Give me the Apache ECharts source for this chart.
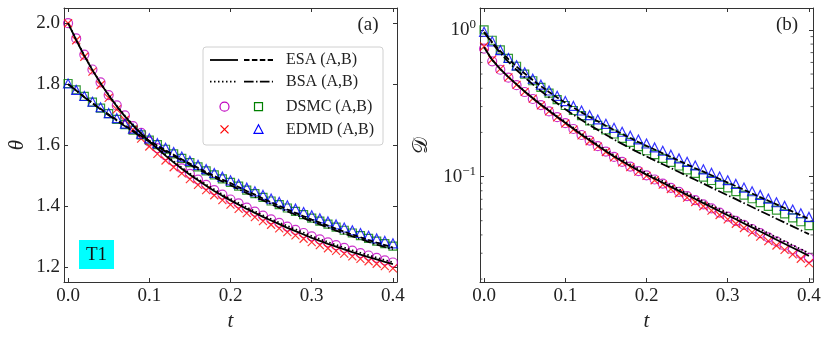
<!DOCTYPE html>
<html><head><meta charset="utf-8">
<script src="https://cdn.jsdelivr.net/npm/echarts@6/dist/echarts.min.js"></script>
<style>html,body{margin:0;padding:0;background:#fff}#c{width:831px;height:338px}</style>
</head><body><div id="c"></div>
<script>
// ---- data ----
const tGrid = [0.00,0.01,0.02,0.03,0.04,0.05,0.06,0.07,0.08,0.09,0.10,0.11,0.12,0.13,0.14,0.15,0.16,0.17,0.18,0.19,0.20,
  0.21,0.22,0.23,0.24,0.25,0.26,0.27,0.28,0.29,0.30,0.31,0.32,0.33,0.34,0.35,0.36,0.37,0.38,0.39,0.40];

// panel (a): temperature theta
const thetaESA_A = [2.000,1.945,1.893,1.846,1.803,1.763,1.727,1.694,1.664,1.637,1.612,1.588,1.565,1.543,1.522,1.502,1.484,1.466,1.449,1.433,1.418,1.404,1.390,1.377,1.364,1.352,1.340,1.328,1.317,1.306,1.295,1.285,1.275,1.266,1.257,1.248,1.240,1.232,1.224,1.216,1.209];
const thetaESA_B = [1.800,1.779,1.758,1.738,1.719,1.700,1.682,1.664,1.647,1.630,1.614,1.598,1.583,1.568,1.553,1.539,1.525,1.511,1.498,1.486,1.475,1.462,1.449,1.437,1.424,1.412,1.400,1.388,1.377,1.366,1.355,1.345,1.335,1.325,1.315,1.306,1.297,1.288,1.279,1.271,1.263];
const thetaBSA_A = [2.000,1.946,1.894,1.847,1.804,1.765,1.729,1.696,1.666,1.639,1.614,1.591,1.568,1.546,1.526,1.506,1.488,1.470,1.454,1.438,1.423,1.409,1.395,1.382,1.369,1.357,1.345,1.334,1.323,1.312,1.301,1.291,1.281,1.272,1.263,1.254,1.246,1.238,1.230,1.222,1.215];
const thetaBSA_B = [1.800,1.779,1.757,1.737,1.717,1.698,1.680,1.662,1.644,1.627,1.611,1.595,1.579,1.564,1.549,1.535,1.520,1.507,1.493,1.480,1.468,1.455,1.442,1.430,1.418,1.406,1.394,1.382,1.371,1.360,1.349,1.339,1.329,1.319,1.309,1.300,1.291,1.282,1.273,1.265,1.257];
const thetaDSMC_A = [2.000,1.950,1.897,1.848,1.806,1.764,1.730,1.697,1.662,1.640,1.611,1.590,1.566,1.546,1.523,1.505,1.486,1.469,1.452,1.437,1.421,1.408,1.394,1.381,1.368,1.356,1.344,1.332,1.321,1.311,1.300,1.290,1.280,1.271,1.262,1.253,1.245,1.237,1.229,1.221,1.214];
const thetaDSMC_B = [1.802,1.781,1.760,1.741,1.721,1.703,1.684,1.667,1.649,1.633,1.616,1.601,1.586,1.571,1.556,1.542,1.528,1.515,1.502,1.489,1.477,1.465,1.452,1.440,1.428,1.416,1.404,1.393,1.382,1.371,1.360,1.350,1.340,1.330,1.320,1.311,1.302,1.293,1.284,1.276,1.268];
const thetaEDMD_A = [2.000,1.944,1.890,1.841,1.797,1.755,1.717,1.682,1.650,1.621,1.595,1.571,1.549,1.527,1.507,1.488,1.469,1.452,1.435,1.419,1.404,1.390,1.376,1.363,1.350,1.338,1.326,1.314,1.303,1.292,1.281,1.271,1.261,1.252,1.243,1.234,1.226,1.218,1.210,1.202,1.195];
const thetaEDMD_B = [1.802,1.781,1.761,1.742,1.724,1.705,1.688,1.670,1.654,1.637,1.622,1.606,1.591,1.577,1.562,1.548,1.535,1.521,1.508,1.496,1.484,1.472,1.460,1.448,1.436,1.424,1.413,1.402,1.391,1.380,1.369,1.359,1.349,1.339,1.329,1.320,1.311,1.302,1.293,1.285,1.277];

// panel (b): D (log scale)
const dESA_A = [0.762,0.624,0.540,0.476,0.425,0.380,0.342,0.309,0.281,0.255,0.233,0.212,0.193,0.177,0.162,0.149,0.137,0.127,0.118,0.110,0.103,0.0967,0.0907,0.0851,0.0798,0.0749,0.0703,0.0659,0.0619,0.0580,0.0545,0.0511,0.0479,0.0450,0.0422,0.0396,0.0371,0.0348,0.0327,0.0307,0.0288];
const dBSA_A = [0.762,0.625,0.541,0.478,0.427,0.382,0.344,0.312,0.284,0.258,0.236,0.215,0.196,0.180,0.165,0.152,0.140,0.130,0.121,0.113,0.1055,0.0991,0.0930,0.0873,0.0819,0.0769,0.0722,0.0678,0.0637,0.0598,0.0562,0.0527,0.0495,0.0465,0.0437,0.0410,0.0385,0.0362,0.0340,0.0320,0.0300];
const dESA_B = [0.965,0.826,0.717,0.632,0.562,0.504,0.455,0.413,0.377,0.346,0.319,0.295,0.274,0.255,0.238,0.222,0.208,0.195,0.183,0.172,0.162,0.153,0.144,0.136,0.128,0.121,0.114,0.108,0.102,0.0963,0.0910,0.0860,0.0812,0.0767,0.0724,0.0684,0.0646,0.0610,0.0576,0.0544,0.0514];
const dBSA_B = [0.965,0.812,0.695,0.605,0.533,0.474,0.425,0.383,0.347,0.316,0.288,0.264,0.243,0.224,0.208,0.193,0.179,0.167,0.156,0.146,0.137,0.129,0.1213,0.1142,0.1074,0.1010,0.0951,0.0895,0.0841,0.0791,0.0745,0.0701,0.0659,0.0620,0.0583,0.0549,0.0516,0.0486,0.0457,0.0430,0.0405];
const dDSMC_A = [0.745,0.610,0.535,0.472,0.420,0.377,0.338,0.307,0.278,0.254,0.231,0.211,0.192,0.176,0.161,0.148,0.136,0.126,0.117,0.109,0.102,0.0955,0.0895,0.0838,0.0786,0.0736,0.0690,0.0646,0.0606,0.0568,0.0533,0.0499,0.0468,0.0439,0.0411,0.0385,0.0361,0.0338,0.0317,0.0297,0.0279];
const dDSMC_B = [1.000,0.850,0.730,0.640,0.565,0.500,0.450,0.405,0.370,0.335,0.305,0.282,0.260,0.240,0.223,0.208,0.195,0.182,0.171,0.160,0.150,0.141,0.133,0.125,0.118,0.111,0.105,0.0990,0.0940,0.0885,0.0838,0.0790,0.0748,0.0706,0.0664,0.0626,0.0590,0.0556,0.0523,0.0492,0.0463];
const dEDMD_A = [0.770,0.628,0.542,0.474,0.422,0.378,0.340,0.306,0.278,0.253,0.230,0.209,0.191,0.174,0.160,0.147,0.135,0.125,0.116,0.108,0.101,0.0944,0.0881,0.0823,0.0769,0.0718,0.0671,0.0627,0.0586,0.0547,0.0511,0.0477,0.0446,0.0416,0.0389,0.0363,0.0339,0.0316,0.0295,0.0275,0.0257];
const dEDMD_B = [0.970,0.836,0.728,0.643,0.573,0.514,0.465,0.423,0.386,0.355,0.327,0.303,0.282,0.262,0.245,0.229,0.215,0.202,0.190,0.179,0.168,0.158,0.150,0.141,0.133,0.126,0.119,0.112,0.106,0.100,0.0944,0.0891,0.0841,0.0794,0.0750,0.0708,0.0668,0.0631,0.0596,0.0562,0.0531];

const logMinorTicks = [0.02,0.03,0.04,0.05,0.06,0.07,0.08,0.09,0.2,0.3,0.4,0.5,0.6,0.7,0.8,0.9];
const legendLabels = ['ESA (A,B)','BSA (A,B)','DSMC (A,B)','EDMD (A,B)'];

// ---- styling ----
const FONT = '"Liberation Serif", "DejaVu Serif", serif';
const AX = '#333';
const C_A1 = '#bf00bf', C_B1 = '#008000', C_A2 = '#ff0000', C_B2 = '#0000ff';
const CROSS = 'path://M0,0L10,10M0,10L10,0';
const X_MIN = -0.005, X_MAX = 0.405;
const DASHED = [5.5,2.4], DOTTED = [1.5,2.5], DASHDOT = [9.6,2.4,1.5,2.4];

const pairs = ys => tGrid.map((t,i)=>[t, ys[i]]);
function scat(xi, yi, ys, symbol, color, size){
  return {type:'scatter', xAxisIndex:xi, yAxisIndex:yi, data:pairs(ys), symbol, symbolSize:size,
    itemStyle:{color:'transparent', borderColor:color, borderWidth:1.2}, z:2, silent:true};
}
function line(xi, yi, ys, type){
  return {type:'line', xAxisIndex:xi, yAxisIndex:yi, data:pairs(ys), showSymbol:false, symbol:'none',
    lineStyle:{color:'#000', width:1.8, type}, z:3, silent:true};
}
const fmt1 = (v, step) => { const r = Math.round(v/step)*step; return Math.abs(v-r) < 1e-9 ? r.toFixed(1) : ''; };
const fmtLog = v => { const l = Math.log10(v), e = Math.round(l); if (Math.abs(l-e) > 1e-6) return '';
  return '{b|10}{s|' + (e < 0 ? '\u2212' + (-e) : e) + '}'; };

function xAx(grid, top, withName){
  return {type:'value', gridIndex:grid, position: top?'top':'bottom', min:X_MIN, max:X_MAX, splitNumber:5,
    axisLine:{show:true, onZero:false, lineStyle:{color:AX, width:1}},
    axisTick:{show:true, inside:true, length:4, lineStyle:{color:AX, width:1}},
    axisLabel:{show:!top, formatter:v=>fmt1(v,0.1), fontFamily:FONT, fontSize:19, color:'#222', margin:5},
    splitLine:{show:false},
    name: withName ? 't' : '', nameLocation:'middle', nameGap:26,
    nameTextStyle:{fontFamily:FONT, fontStyle:'italic', fontSize:21, color:'#222'}};
}
function yLin(right){
  return {type:'value', gridIndex:0, position: right?'right':'left', min:1.15, max:2.05, splitNumber:5,
    axisLine:{show:true, onZero:false, lineStyle:{color:AX, width:1}},
    axisTick:{show:true, inside:true, length:4, lineStyle:{color:AX, width:1}},
    axisLabel:{show:!right, formatter:v=>fmt1(v,0.2), fontFamily:FONT, fontSize:19, color:'#222', margin:4},
    splitLine:{show:false},
    name: right ? '' : '\u03b8', nameLocation:'middle', nameGap:36, nameRotate:90,
    nameTextStyle:{fontFamily:FONT, fontStyle:'italic', fontSize:21, color:'#222'}};
}
function yLog(right){
  return {type:'log', logBase:10, gridIndex:1, position: right?'right':'left', min:0.0191, max:1.41,
    axisLine:{show:true, onZero:false, lineStyle:{color:AX, width:1}},
    axisTick:{show:true, inside:true, length:4, lineStyle:{color:AX, width:1}},
    axisLabel:{show:!right, formatter:fmtLog, color:'#222', margin:4,
      rich:{b:{fontFamily:FONT, fontSize:19, color:'#222'}, s:{fontFamily:FONT, fontSize:13, color:'#222', padding:[0,0,10,0]}}},
    splitLine:{show:false},
    name: right ? '' : '\ud835\udc9f', nameLocation:'middle', nameGap:48, nameRotate:90,
    nameTextStyle:{fontFamily:FONT, fontSize:21, color:'#222'}};
}
function minorTicks(xVal, offset){
  return {type:'scatter', xAxisIndex:2, yAxisIndex:2, data:logMinorTicks.map(v=>[xVal, v]),
    symbol:'rect', symbolSize:[2.5,1], symbolOffset:[offset,0], itemStyle:{color:AX}, clip:false, z:5, silent:true};
}

const series = [
  scat(0,0,thetaDSMC_A,'circle',C_A1,9), scat(0,0,thetaDSMC_B,'rect',C_B1,8),
  scat(0,0,thetaEDMD_A,CROSS,C_A2,8), scat(0,0,thetaEDMD_B,'triangle',C_B2,9),
  line(0,0,thetaESA_A,'solid'), line(0,0,thetaESA_B,DASHED),
  line(0,0,thetaBSA_A,DOTTED), line(0,0,thetaBSA_B,DASHDOT),
  scat(2,2,dDSMC_A,'circle',C_A1,9), scat(2,2,dDSMC_B,'rect',C_B1,8),
  scat(2,2,dEDMD_A,CROSS,C_A2,8), scat(2,2,dEDMD_B,'triangle',C_B2,9),
  line(2,2,dESA_A,'solid'), line(2,2,dESA_B,DASHED),
  line(2,2,dBSA_A,DOTTED), line(2,2,dBSA_B,DASHDOT),
  minorTicks(X_MIN, 1.25), minorTicks(X_MAX, -1.25)
];

// legend drawn as graphic (two-column handles)
const LX = 203, LY = 47, rows = [60, 81.7, 106.7, 129.3];
const g = [
  {type:'rect', shape:{x:LX, y:LY, width:180, height:98, r:3}, style:{fill:'rgba(255,255,255,0.85)', stroke:'#d0d0d0', lineWidth:1}, z:10},
  {type:'line', shape:{x1:210,y1:rows[0],x2:238,y2:rows[0]}, style:{stroke:'#000', lineWidth:1.8}, z:11},
  {type:'line', shape:{x1:244,y1:rows[0],x2:273,y2:rows[0]}, style:{stroke:'#000', lineWidth:1.8, lineDash:DASHED}, z:11},
  {type:'line', shape:{x1:210,y1:rows[1],x2:238,y2:rows[1]}, style:{stroke:'#000', lineWidth:1.8, lineDash:DOTTED}, z:11},
  {type:'line', shape:{x1:244,y1:rows[1],x2:273,y2:rows[1]}, style:{stroke:'#000', lineWidth:1.8, lineDash:DASHDOT}, z:11},
  {type:'circle', shape:{cx:224.5, cy:rows[2], r:4.5}, style:{fill:'none', stroke:C_A1, lineWidth:1.2}, z:11},
  {type:'rect', shape:{x:254.5, y:rows[2]-4, width:8, height:8}, style:{fill:'none', stroke:C_B1, lineWidth:1.2}, z:11},
  {type:'line', shape:{x1:220.5,y1:rows[3]-4,x2:228.5,y2:rows[3]+4}, style:{stroke:C_A2, lineWidth:1.2}, z:11},
  {type:'line', shape:{x1:220.5,y1:rows[3]+4,x2:228.5,y2:rows[3]-4}, style:{stroke:C_A2, lineWidth:1.2}, z:11},
  {type:'polygon', shape:{points:[[258.5,rows[3]-4.5],[254,rows[3]+4],[263,rows[3]+4]]}, style:{fill:'none', stroke:C_B2, lineWidth:1.2}, z:11},
  {type:'rect', shape:{x:79, y:240, width:35, height:29}, style:{fill:'#00ffff'}, z:10},
  {type:'text', x:96.5, y:255, style:{text:'T1', font:'19px '+FONT, fill:'#111', align:'center', verticalAlign:'middle'}, z:11},
  {type:'text', x:368, y:25, style:{text:'(a)', font:'19px '+FONT, fill:'#222', align:'center', verticalAlign:'middle'}, z:11},
  {type:'text', x:787, y:25, style:{text:'(b)', font:'19px '+FONT, fill:'#222', align:'center', verticalAlign:'middle'}, z:11}
];
legendLabels.forEach((s,i)=>g.push({type:'text', x:286, y:rows[i], style:{text:s, font:'16px '+FONT, fill:'#222', align:'left', verticalAlign:'middle'}, z:11}));

const chart = echarts.init(document.getElementById('c'));
chart.setOption({
  animation:false,
  backgroundColor:'#fff',
  grid:[{left:64, top:8, width:333, height:274}, {left:480, top:8, width:333, height:274}],
  xAxis:[xAx(0,false,true), xAx(0,true,false), xAx(1,false,true), xAx(1,true,false)],
  yAxis:[yLin(false), yLin(true), yLog(false), yLog(true)],
  series,
  graphic:g
});
</script></body></html>
